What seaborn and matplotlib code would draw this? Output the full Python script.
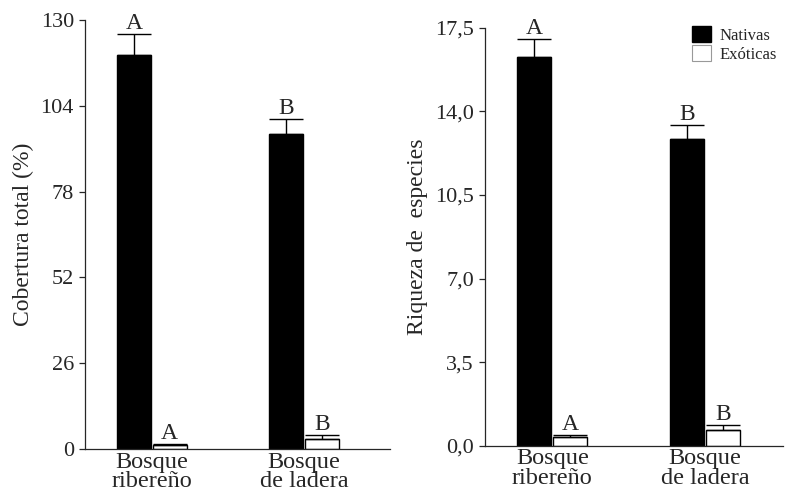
import numpy as np
import pandas as pd
import matplotlib
matplotlib.use("Agg")
import matplotlib.pyplot as plt
from matplotlib.patches import Patch
import seaborn as sns

# data
sites = ["Bosque\nribereño", "Bosque\nde ladera"]
origins = ["Nativas", "Exóticas"]

cover_nat = [119.3, 95.5]
cover_nat_se = [6.5, 4.6]
cover_exo = [1.2, 2.9]
cover_exo_se = [0.3, 1.3]
cover_letters_nat = ["A", "B"]
cover_letters_exo = ["A", "B"]
cover_ticks = [0, 26, 52, 78, 104, 130]

rich_nat = [16.26, 12.83]
rich_nat_se = [0.75, 0.58]
rich_exo = [0.35, 0.67]
rich_exo_se = [0.1, 0.2]
rich_letters_nat = ["A", "B"]
rich_letters_exo = ["A", "B"]
rich_ticks = [0.0, 3.5, 7.0, 10.5, 14.0, 17.5]

sns.set_style("ticks")
plt.rcParams["font.family"] = ["Liberation Serif", "DejaVu Serif"]
plt.rcParams["axes.linewidth"] = 0.9


def make_df(nat, nat_se, exo, exo_se):
    return pd.DataFrame({
        "site": sites * 2,
        "origin": [origins[0]] * 2 + [origins[1]] * 2,
        "value": nat + exo,
        "se": nat_se + exo_se,
    })


def draw_panel(ax, df, letters, ticks, ticklabels, ylabel, xlim):
    sns.barplot(data=df, x="site", y="value", hue="origin", order=sites,
                hue_order=origins, palette={"Nativas": "black", "Exóticas": "white"},
                edgecolor="black", linewidth=1, width=0.47, gap=0.06,
                errorbar=None, legend=False, ax=ax)
    for cont, org in zip(ax.containers, origins):
        sub = df[df["origin"] == org].set_index("site").loc[sites]
        xs = [b.get_x() + b.get_width() / 2 for b in cont]
        ax.errorbar(xs, sub["value"], yerr=[np.zeros(len(xs)), sub["se"]],
                    fmt="none", ecolor="black", elinewidth=1, capsize=12.5,
                    capthick=1)
        for x, v, e, lab in zip(xs, sub["value"], sub["se"], letters[org]):
            ax.annotate(lab, (x, v + e), xytext=(0, 0), textcoords="offset points",
                        ha="center", va="bottom", fontsize=17)
    ax.set_ylim(0, ticks[-1])
    ax.set_xlim(*xlim)
    ax.set_yticks(ticks)
    ax.set_yticklabels(ticklabels, fontsize=16)
    ax.set_xticks(range(len(sites)))
    ax.set_xticklabels(sites, fontsize=17.5, linespacing=0.9)
    ax.tick_params(axis="x", length=0, pad=2)
    ax.tick_params(axis="y", length=4, width=0.9, pad=4)
    ax.set_xlabel("")
    ax.set_ylabel(ylabel, fontsize=17, labelpad=5)
    sns.despine(ax=ax)


fig = plt.figure(figsize=(7.85, 4.98), dpi=100)
ax1 = fig.add_axes([85 / 785, 1 - 449 / 498, 305 / 785, 429 / 498])
ax2 = fig.add_axes([485 / 785, 1 - 445.7 / 498, 298 / 785, 418 / 498])

df_cover = make_df(cover_nat, cover_nat_se, cover_exo, cover_exo_se)
df_rich = make_df(rich_nat, rich_nat_se, rich_exo, rich_exo_se)

draw_panel(ax1, df_cover, {"Nativas": cover_letters_nat, "Exóticas": cover_letters_exo},
           cover_ticks, [str(t) for t in cover_ticks], "Cobertura total (%)",
           (-0.44, 1.566))
draw_panel(ax2, df_rich, {"Nativas": rich_letters_nat, "Exóticas": rich_letters_exo},
           rich_ticks, [f"{t:.1f}".replace(".", ",") for t in rich_ticks],
           "Riqueza de  especies", (-0.44, 1.51))

handles = [Patch(facecolor="black", edgecolor="black", label="Nativas"),
           Patch(facecolor="white", edgecolor="#999999", linewidth=0.8, label="Exóticas")]
ax2.legend(handles=handles, loc="upper left", bbox_to_anchor=(692 / 785, 1 - 26 / 498),
           bbox_transform=fig.transFigure, frameon=False, borderpad=0,
           borderaxespad=0, handlelength=1.15, handleheight=1.1, handletextpad=0.5,
           labelspacing=0.1, fontsize=12)

fig.savefig("out.png", dpi=100)
